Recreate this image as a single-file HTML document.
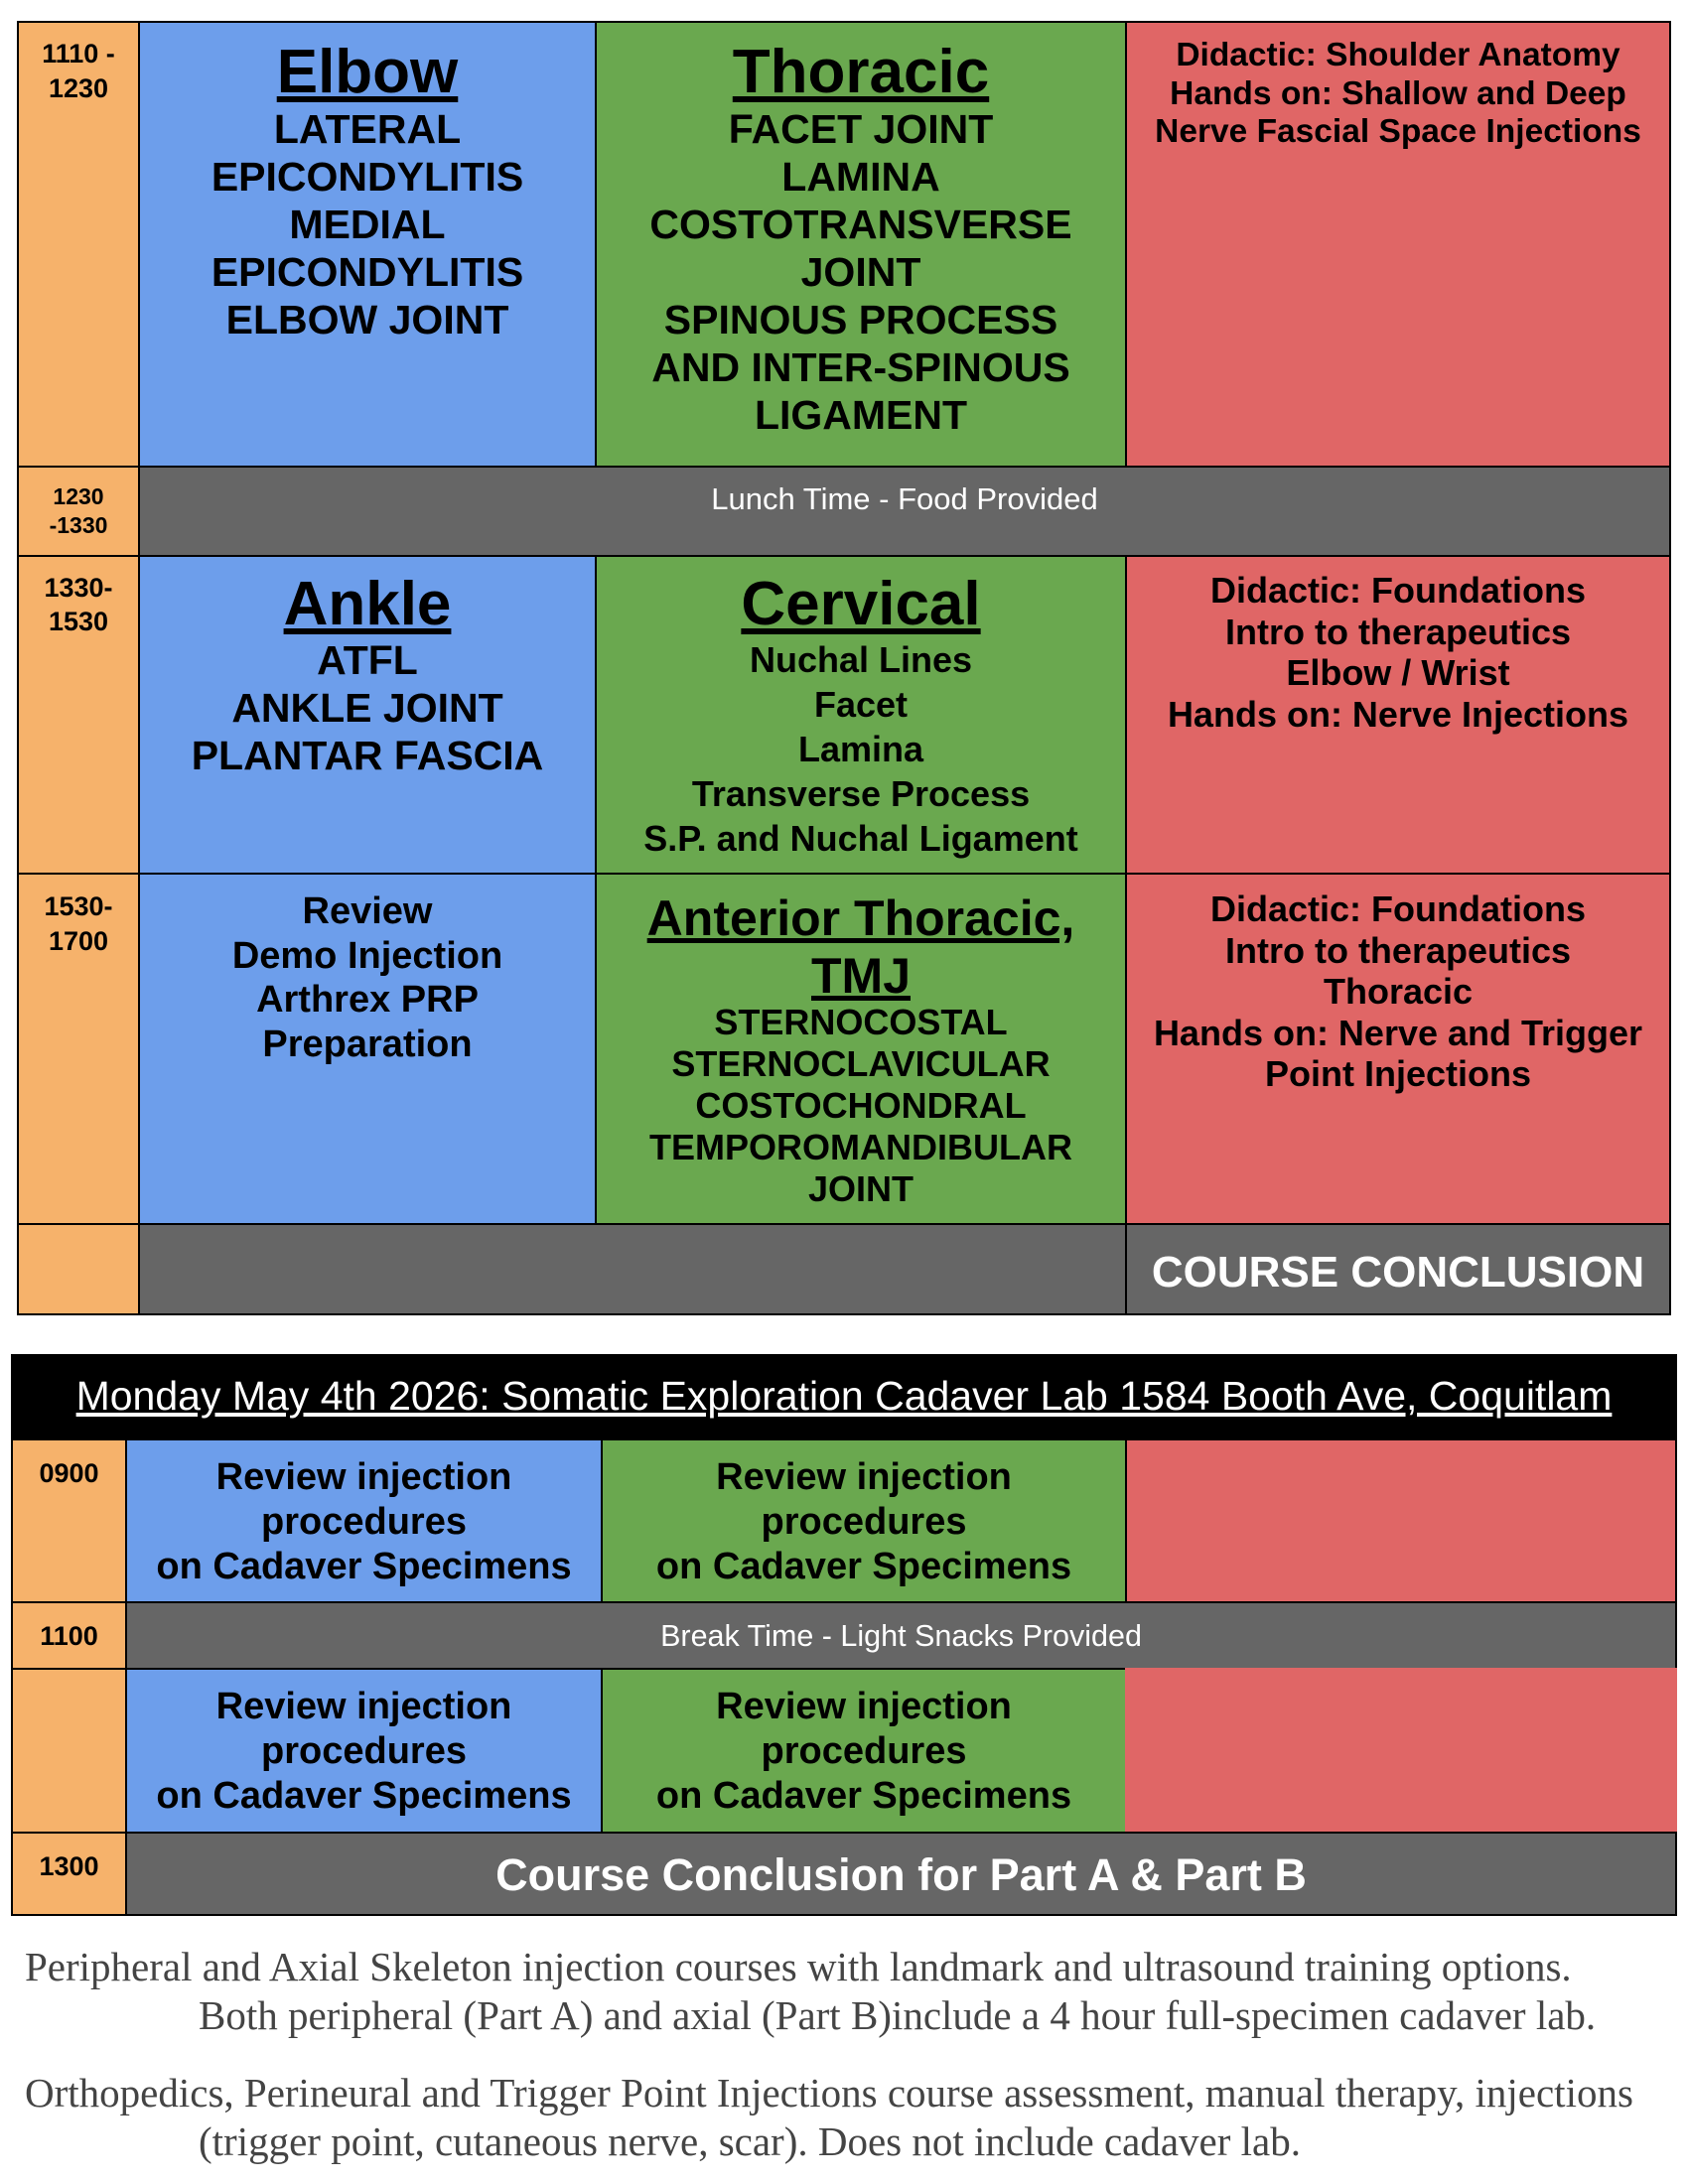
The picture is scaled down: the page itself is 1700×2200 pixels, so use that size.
<!DOCTYPE html>
<html><head><meta charset="utf-8"><style>
body{margin:0;width:1700px;height:2200px;background:#fff;position:relative;overflow:hidden;font-family:"Liberation Sans",Arial,sans-serif;color:#000}
.c{position:absolute;box-sizing:border-box;border:2px solid #000}
.o{background:#F6B26B}.b{background:#6D9EEB}.g{background:#6AA84F}.r{background:#E06666}.k{background:#666}
.t{position:absolute;text-align:center;white-space:nowrap}
.bd{font-weight:bold}
.u{text-decoration:underline}
.w{color:#fff}
.f{position:absolute;font-family:"Liberation Serif",serif;color:#444;font-size:41px;white-space:nowrap;line-height:49px}
</style></head><body>
<!-- top table -->
<div class="c o" style="left:17px;top:21px;width:124px;height:1304px"></div>
<div class="c b" style="left:139px;top:21px;width:462px;height:450px"></div>
<div class="c g" style="left:599px;top:21px;width:536px;height:450px"></div>
<div class="c r" style="left:1133px;top:21px;width:550px;height:450px"></div>
<div class="c o" style="left:17px;top:469px;width:124px;height:92px"></div>
<div class="c k" style="left:139px;top:469px;width:1544px;height:92px"></div>
<div class="c o" style="left:17px;top:559px;width:124px;height:322px"></div>
<div class="c b" style="left:139px;top:559px;width:462px;height:322px"></div>
<div class="c g" style="left:599px;top:559px;width:536px;height:322px"></div>
<div class="c r" style="left:1133px;top:559px;width:550px;height:322px"></div>
<div class="c o" style="left:17px;top:879px;width:124px;height:355px"></div>
<div class="c b" style="left:139px;top:879px;width:462px;height:355px"></div>
<div class="c g" style="left:599px;top:879px;width:536px;height:355px"></div>
<div class="c r" style="left:1133px;top:879px;width:550px;height:355px"></div>
<div class="c o" style="left:17px;top:1232px;width:124px;height:93px"></div>
<div class="c k" style="left:139px;top:1232px;width:996px;height:93px"></div>
<div class="c k" style="left:1133px;top:1232px;width:550px;height:93px"></div>

<!-- times -->
<div class="t bd" style="left:17px;width:124px;top:37px;font-size:27px;line-height:35px">1110 -<br>1230</div>
<div class="t bd" style="left:17px;width:124px;top:486px;font-size:23px;line-height:29px">1230<br>-1330</div>
<div class="t bd" style="left:17px;width:124px;top:575px;font-size:27px;line-height:34px">1330-<br>1530</div>
<div class="t bd" style="left:17px;width:124px;top:896px;font-size:27px;line-height:35px">1530-<br>1700</div>

<!-- row1 -->
<div class="t bd u" style="left:139px;width:462px;top:45px;font-size:62px;line-height:56px">Elbow</div>
<div class="t bd" style="left:139px;width:462px;top:106px;font-size:41px;line-height:48px">LATERAL<br>EPICONDYLITIS<br>MEDIAL<br>EPICONDYLITIS<br>ELBOW JOINT</div>
<div class="t bd u" style="left:599px;width:536px;top:45px;font-size:62px;line-height:56px">Thoracic</div>
<div class="t bd" style="left:599px;width:536px;top:106px;font-size:41px;line-height:48px">FACET JOINT<br>LAMINA<br>COSTOTRANSVERSE<br>JOINT<br>SPINOUS PROCESS<br>AND INTER-SPINOUS<br>LIGAMENT</div>
<div class="t bd" style="left:1133px;width:550px;top:37px;font-size:33.5px;line-height:38.5px">Didactic: Shoulder Anatomy<br>Hands on: Shallow and Deep<br>Nerve Fascial Space Injections</div>
<div class="t w" style="left:139px;width:1544px;top:485px;font-size:31px;line-height:36px">Lunch Time - Food Provided</div>

<!-- row3 -->
<div class="t bd u" style="left:139px;width:462px;top:581px;font-size:62px;line-height:56px">Ankle</div>
<div class="t bd" style="left:139px;width:462px;top:641px;font-size:41px;line-height:48px">ATFL<br>ANKLE JOINT<br>PLANTAR FASCIA</div>
<div class="t bd u" style="left:599px;width:536px;top:581px;font-size:62px;line-height:56px">Cervical</div>
<div class="t bd" style="left:599px;width:536px;top:642px;font-size:36px;line-height:45px">Nuchal Lines<br>Facet<br>Lamina<br>Transverse Process<br>S.P. and Nuchal Ligament</div>
<div class="t bd" style="left:1133px;width:550px;top:574px;font-size:36px;line-height:41.6px">Didactic: Foundations<br>Intro to therapeutics<br>Elbow / Wrist<br>Hands on: Nerve Injections</div>

<!-- row4 -->
<div class="t bd" style="left:139px;width:462px;top:896px;font-size:38px;line-height:44.5px">Review<br>Demo Injection<br>Arthrex PRP<br>Preparation</div>
<div class="t bd u" style="left:599px;width:536px;top:896px;font-size:50px;line-height:58px">Anterior Thoracic,<br>TMJ</div>
<div class="t bd" style="left:599px;width:536px;top:1009px;font-size:36px;line-height:42px">STERNOCOSTAL<br>STERNOCLAVICULAR<br>COSTOCHONDRAL<br>TEMPOROMANDIBULAR<br>JOINT</div>
<div class="t bd" style="left:1133px;width:550px;top:895px;font-size:36px;line-height:41.6px">Didactic: Foundations<br>Intro to therapeutics<br>Thoracic<br>Hands on: Nerve and Trigger<br>Point Injections</div>
<div class="t bd w" style="left:1133px;width:550px;top:1256px;font-size:44px;line-height:52px">COURSE CONCLUSION</div>

<!-- bottom table -->
<div class="c" style="left:11px;top:1364px;width:1678px;height:87px;background:#000"></div>
<div class="t u w" style="left:11px;width:1678px;top:1384px;font-size:41px;line-height:44px">Monday May 4th 2026: Somatic Exploration Cadaver Lab 1584 Booth Ave, Coquitlam</div>
<div class="c o" style="left:11px;top:1449px;width:117px;height:166px"></div>
<div class="c b" style="left:126px;top:1449px;width:481px;height:166px"></div>
<div class="c g" style="left:605px;top:1449px;width:530px;height:166px"></div>
<div class="c r" style="left:1133px;top:1449px;width:556px;height:166px"></div>
<div class="c o" style="left:11px;top:1613px;width:117px;height:69px"></div>
<div class="c k" style="left:126px;top:1613px;width:1563px;height:69px"></div>
<div class="c o" style="left:11px;top:1680px;width:117px;height:167px"></div>
<div class="c b" style="left:126px;top:1680px;width:481px;height:167px"></div>
<div class="c g" style="left:605px;top:1680px;width:530px;height:167px"></div>
<div style="position:absolute;left:1133px;top:1680px;width:556px;height:165px;background:#E06666"></div>
<div class="c o" style="left:11px;top:1845px;width:117px;height:85px"></div>
<div class="c k" style="left:126px;top:1845px;width:1563px;height:85px"></div>

<div class="t bd" style="left:11px;width:117px;top:1468px;font-size:27px;line-height:32px">0900</div>
<div class="t bd" style="left:11px;width:117px;top:1632px;font-size:27px;line-height:32px">1100</div>
<div class="t bd" style="left:11px;width:117px;top:1864px;font-size:27px;line-height:32px">1300</div>
<div class="t bd" style="left:126px;width:481px;top:1466px;font-size:38px;line-height:45px">Review injection<br>procedures<br>on Cadaver Specimens</div>
<div class="t bd" style="left:605px;width:530px;top:1466px;font-size:38px;line-height:45px">Review injection<br>procedures<br>on Cadaver Specimens</div>
<div class="t w" style="left:126px;width:1563px;top:1632px;font-size:30.5px;line-height:32px">Break Time - Light Snacks Provided</div>
<div class="t bd" style="left:126px;width:481px;top:1697px;font-size:38px;line-height:45px">Review injection<br>procedures<br>on Cadaver Specimens</div>
<div class="t bd" style="left:605px;width:530px;top:1697px;font-size:38px;line-height:45px">Review injection<br>procedures<br>on Cadaver Specimens</div>
<div class="t bd w" style="left:126px;width:1563px;top:1864px;font-size:45px;line-height:50px">Course Conclusion for Part A &amp; Part B</div>

<!-- footer -->
<div class="f" style="left:25px;top:1957px">Peripheral and Axial Skeleton injection courses with landmark and ultrasound training options.</div>
<div class="f" style="left:200px;top:2006px">Both peripheral (Part A) and axial (Part B)include a 4 hour full-specimen cadaver lab.</div>
<div class="f" style="left:25px;top:2084px">Orthopedics, Perineural and Trigger Point Injections course assessment, manual therapy, injections</div>
<div class="f" style="left:200px;top:2133px">(trigger point, cutaneous nerve, scar). Does not include cadaver lab.</div>
</body></html>
